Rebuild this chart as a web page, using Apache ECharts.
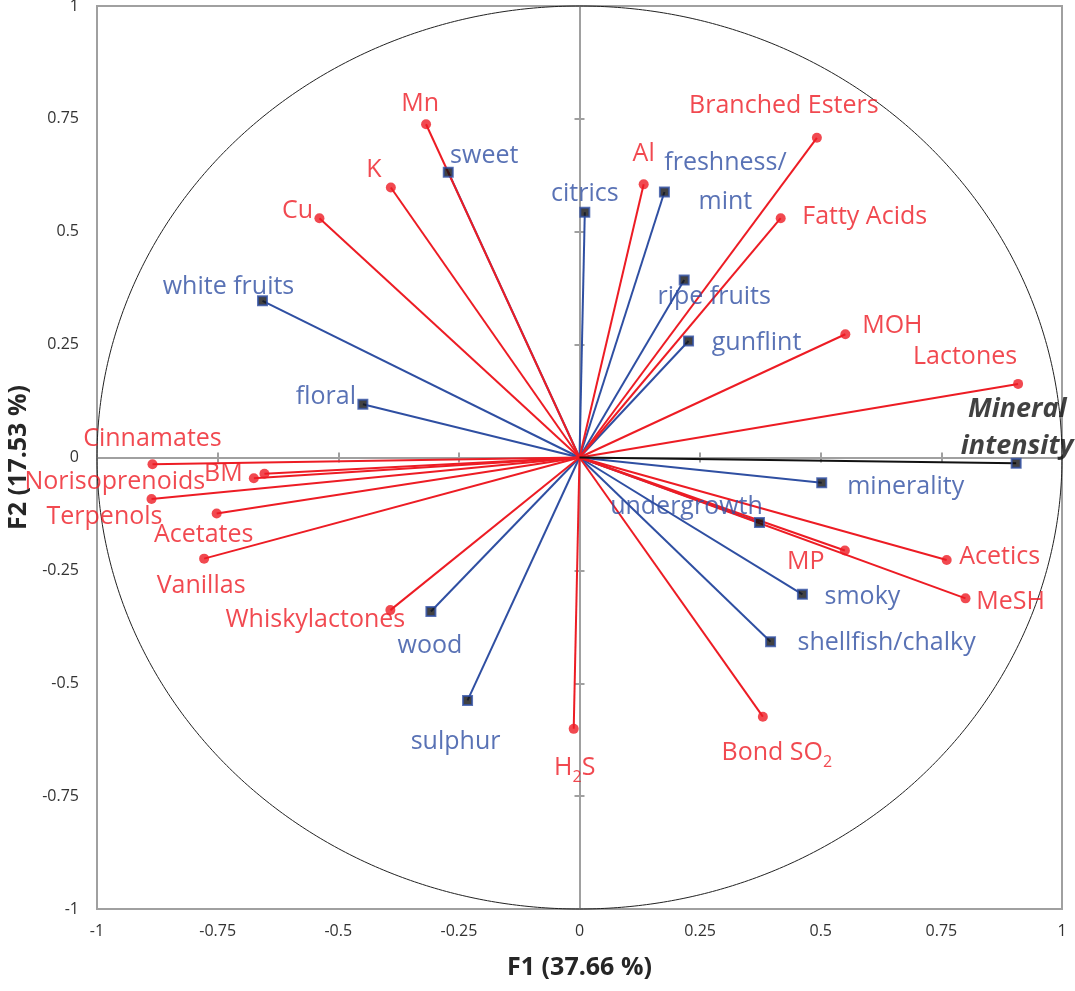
<!DOCTYPE html>
<html>
<head>
<meta charset="utf-8">
<script src="https://cdn.jsdelivr.net/npm/echarts@6/dist/echarts.min.js"></script>
<style>html,body{margin:0;padding:0;background:#fff}#c{width:1075px;height:991px}</style>
</head>
<body>
<div id="c"></div>
<script>
// ---- data ----
const axisTicks = [-1, -0.75, -0.5, -0.25, 0, 0.25, 0.5, 0.75, 1];
const xTitle = 'F1 (37.66 %)';
const yTitle = 'F2 (17.53 %)';

const chemNames = ['Mn','K','Cu','Al','Branched Esters','Fatty Acids','MOH','Lactones','Acetics','MP','MeSH','Bond SO2','H2S','Whiskylactones','Vanillas','Acetates','Terpenols','Norisoprenoids','BM','Cinnamates'];
const chemF1 = [-0.318,-0.391,-0.539,0.133,0.492,0.417,0.551,0.909,0.761,0.550,0.800,0.380,-0.012,-0.392,-0.778,-0.752,-0.887,-0.675,-0.653,-0.885];
const chemF2 = [0.738,0.598,0.530,0.605,0.708,0.530,0.273,0.163,-0.227,-0.206,-0.312,-0.574,-0.601,-0.338,-0.224,-0.124,-0.092,-0.046,-0.036,-0.015];

const sensNames = ['sweet','citrics','freshness/mint','ripe fruits','gunflint','white fruits','floral','minerality','undergrowth','smoky','shellfish/chalky','wood','sulphur'];
const sensF1 = [-0.272,0.011,0.176,0.217,0.226,-0.657,-0.449,0.502,0.373,0.462,0.396,-0.308,-0.232];
const sensF2 = [0.632,0.543,0.588,0.393,0.258,0.347,0.118,-0.056,-0.144,-0.303,-0.408,-0.341,-0.538];

const intensityNames = ['Mineral intensity'];
const intensityF1 = [0.905];
const intensityF2 = [-0.013];

// ---- styling ----
const RED = '#ED1C24', BLUE = '#2F4FA2', DARK = '#111111', GRAY = '#a0a0a0';
const FONT = 'Open Sans';
const labelOffsets = {
  'Mn':[-6,-20],'K':[-17,-18],'Cu':[-22,-7],'Al':[0,-30],'Branched Esters':[-33,-32],'Fatty Acids':[84,-1],
  'MOH':[47,-8],'Lactones':[-53,-27],'Acetics':[53,-3],'MP':[-39,11],'MeSH':[45,4],'Bond SO2':[14,36],
  'H2S':[1,39],'Whiskylactones':[-75,10],'Vanillas':[-3,27],'Acetates':[-13,21],'Terpenols':[-47,18],
  'Norisoprenoids':[-139,4],'BM':[-41,0],'Cinnamates':[0,-25],
  'sweet':[36,-16],'citrics':[0,-18],'freshness/mint':[61,-10],'ripe fruits':[30,17],'gunflint':[68,2],
  'white fruits':[-34,-14],'floral':[-37,-7],'minerality':[84,4],'undergrowth':[-73,-16],'smoky':[60,3],
  'shellfish/chalky':[116,1],'wood':[-1,34],'sulphur':[-12,41],'Mineral intensity':[1,-36]
};
const displayText = {
  'H2S':'H{sub|2}S','Bond SO2':'Bond SO{sub|2}','freshness/mint':'freshness/\nmint','Mineral intensity':'Mineral\nintensity'
};

function pointData(names, xs, ys) {
  return names.map((n, i) => ({
    name: n,
    value: [xs[i], ys[i]],
    label: { position: 'inside', offset: labelOffsets[n] || [0, 0] }
  }));
}

function vectorSeries(xs, ys, color) {
  return {
    type: 'custom', silent: true, z: 2,
    data: xs.map((x, i) => [x, ys[i]]),
    renderItem(params, api) {
      const o = api.coord([0, 0]);
      const p = api.coord([api.value(0), api.value(1)]);
      return { type: 'line', shape: { x1: o[0], y1: o[1], x2: p[0], y2: p[1] },
               style: { stroke: color, lineWidth: 2 } };
    }
  };
}

const circleSeries = {
  type: 'custom', silent: true, z: 1,
  data: [[0, 0]],
  renderItem(params, api) {
    const pts = [];
    for (let k = 0; k <= 720; k++) {
      const a = k * Math.PI / 360;
      pts.push(api.coord([Math.cos(a), Math.sin(a)]));
    }
    return { type: 'polyline', shape: { points: pts }, style: { stroke: '#222', lineWidth: 1, fill: null } };
  }
};

function labelFmt(p) { return displayText[p.name] || p.name; }

const rich = {
  sub: { fontSize: 16, fontFamily: FONT, color: RED, verticalAlign: 'top', lineHeight: 16, padding: [14, 0, 0, 0] }
};

const tickLbl = { fontSize: 16, color: '#333333', fontFamily: FONT };
const zeroLine = { color: GRAY, width: 2 };

const option = {
  animation: false,
  backgroundColor: '#fff',
  textStyle: { fontFamily: FONT },
  grid: { left: 97, right: 13, top: 6, bottom: 82, containLabel: false, outerBoundsMode: 'none',
          show: true, borderColor: GRAY, borderWidth: 2, backgroundColor: 'transparent' },
  xAxis: [
    { type: 'value', min: -1, max: 1, interval: 0.25, position: 'bottom',
      axisLine: { show: false, onZero: false }, axisTick: { show: false }, splitLine: { show: false },
      axisLabel: Object.assign({ margin: 14 }, tickLbl),
      name: xTitle, nameLocation: 'middle', nameGap: 46,
      nameTextStyle: { fontSize: 25, fontWeight: 'bold', color: '#262626', fontFamily: FONT } },
    { type: 'value', min: -1, max: 1, interval: 0.25, position: 'bottom',
      axisLine: { show: true, onZero: true, lineStyle: zeroLine },
      axisTick: { show: true, length: 5, lineStyle: zeroLine }, axisLabel: { show: false }, splitLine: { show: false } },
    { type: 'value', min: -1, max: 1, interval: 0.25, position: 'top',
      axisLine: { show: true, onZero: true, lineStyle: zeroLine },
      axisTick: { show: true, length: 5, lineStyle: zeroLine }, axisLabel: { show: false }, splitLine: { show: false } }
  ],
  yAxis: [
    { type: 'value', min: -1, max: 1, interval: 0.25, position: 'left',
      axisLine: { show: false, onZero: false }, axisTick: { show: false }, splitLine: { show: false },
      axisLabel: Object.assign({ margin: 18 }, tickLbl),
      name: yTitle, nameLocation: 'middle', nameGap: 64,
      nameTextStyle: { fontSize: 25, fontWeight: 'bold', color: '#262626', fontFamily: FONT } },
    { type: 'value', min: -1, max: 1, interval: 0.25, position: 'left',
      axisLine: { show: true, onZero: true, lineStyle: zeroLine },
      axisTick: { show: true, length: 5, lineStyle: zeroLine }, axisLabel: { show: false }, splitLine: { show: false } },
    { type: 'value', min: -1, max: 1, interval: 0.25, position: 'right',
      axisLine: { show: true, onZero: true, lineStyle: zeroLine },
      axisTick: { show: true, length: 5, lineStyle: zeroLine }, axisLabel: { show: false }, splitLine: { show: false } }
  ],
  series: [
    circleSeries,
    vectorSeries(sensF1, sensF2, BLUE),
    vectorSeries(chemF1, chemF2, RED),
    vectorSeries(intensityF1, intensityF2, DARK),
    { type: 'scatter', z: 5, symbol: 'circle', symbolSize: 10,
      itemStyle: { color: RED }, emphasis: { disabled: true },
      label: { show: true, formatter: labelFmt, color: RED, fontSize: 25, fontFamily: FONT, rich },
      data: pointData(chemNames, chemF1, chemF2) },
    { type: 'scatter', z: 5, symbol: 'rect', symbolSize: 9,
      itemStyle: { color: DARK, borderColor: BLUE, borderWidth: 2 }, emphasis: { disabled: true },
      label: { show: true, formatter: labelFmt, color: BLUE, fontSize: 25, fontFamily: FONT, align: 'center', lineHeight: 39 },
      data: pointData(sensNames, sensF1, sensF2) },
    { type: 'scatter', z: 5, symbol: 'rect', symbolSize: 9,
      itemStyle: { color: DARK, borderColor: BLUE, borderWidth: 2 }, emphasis: { disabled: true },
      label: { show: true, formatter: labelFmt, color: DARK, fontSize: 27, fontFamily: FONT, fontWeight: 'bold', fontStyle: 'italic', align: 'center', lineHeight: 37 },
      data: pointData(intensityNames, intensityF1, intensityF2) }
  ]
};

echarts.init(document.getElementById('c'), null, { renderer: 'canvas' }).setOption(option);
</script>
</body>
</html>
